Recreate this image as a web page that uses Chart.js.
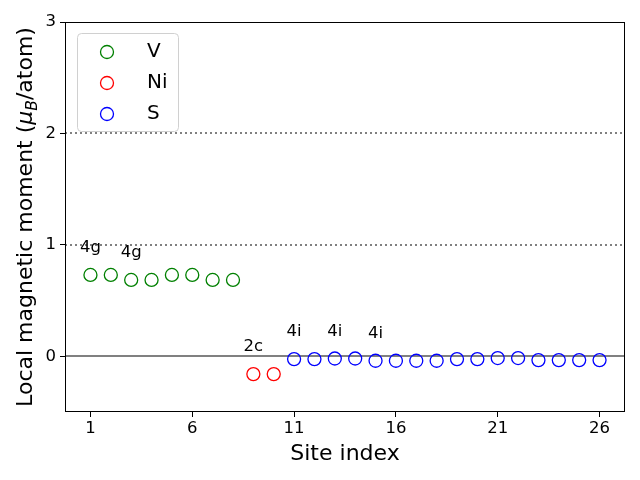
<!DOCTYPE html>
<html>
<head>
<meta charset="utf-8">
<script src="https://cdn.jsdelivr.net/npm/chart.js@4/dist/chart.umd.min.js"></script>
<style>
  html, body { margin: 0; padding: 0; background: #fff; }
  #wrap { width: 640px; height: 480px; }
</style>
</head>
<body>
<div id="wrap"><canvas id="myChart" width="640" height="480"></canvas></div>
<script>
// site indices and moments for each element
const vSites = [1, 2, 3, 4, 5, 6, 7, 8];
const vMoments = [0.73, 0.73, 0.685, 0.685, 0.73, 0.73, 0.685, 0.685];
const niSites = [9, 10];
const niMoments = [-0.16, -0.16];
const sSites = [11, 12, 13, 14, 15, 16, 17, 18, 19, 20, 21, 22, 23, 24, 25, 26];
const sMoments = [-0.025, -0.025, -0.02, -0.02, -0.04, -0.04, -0.04, -0.04,
                  -0.025, -0.025, -0.016, -0.016, -0.034, -0.034, -0.034, -0.034];

const xTicks = [1, 6, 11, 16, 21, 26];
const yTicks = [0, 1, 2, 3];

// wyckoff labels
const labelSites = [1, 3, 9, 11, 13, 15];
const labelTexts = ['4g', '4g', '2c', '4i', '4i', '4i'];

const dottedLines = [1, 2];

const FONT = 'DejaVu Sans';

function pts(xs, ys) {
  return xs.map((x, i) => ({ x: x, y: ys[i] }));
}

function findMoment(site) {
  const all = pts(vSites, vMoments).concat(pts(niSites, niMoments), pts(sSites, sMoments));
  return all.find(p => p.x === site).y;
}

const refLinesPlugin = {
  id: 'refLines',
  beforeDatasetsDraw(chart) {
    const { ctx, chartArea, scales } = chart;
    ctx.save();
    ctx.strokeStyle = '#808080';
    ctx.lineWidth = 2;
    ctx.setLineDash([2, 3]);
    dottedLines.forEach(v => {
      const y = Math.round(scales.y.getPixelForValue(v));
      ctx.beginPath();
      ctx.moveTo(chartArea.left, y);
      ctx.lineTo(chartArea.right, y);
      ctx.stroke();
    });
    ctx.setLineDash([]);
    const y0 = Math.round(scales.y.getPixelForValue(0));
    ctx.beginPath();
    ctx.moveTo(chartArea.left, y0);
    ctx.lineTo(chartArea.right, y0);
    ctx.stroke();
    ctx.restore();
  },
  afterDatasetsDraw(chart) {
    const { ctx, chartArea, scales } = chart;
    ctx.save();
    // frame
    ctx.strokeStyle = '#000';
    ctx.lineWidth = 1;
    ctx.strokeRect(chartArea.left + 0.5, chartArea.top + 0.5,
                   chartArea.right - chartArea.left - 1, chartArea.bottom - chartArea.top - 1);
    // site labels
    ctx.fillStyle = '#000';
    ctx.font = '16.5px "' + FONT + '"';
    ctx.textAlign = 'center';
    ctx.textBaseline = 'alphabetic';
    labelSites.forEach((s, i) => {
      const x = scales.x.getPixelForValue(s);
      const y = scales.y.getPixelForValue(findMoment(s) + 0.205);
      ctx.fillText(labelTexts[i], x, y);
    });
    // y title with subscript
    const parts = [
      { t: 'Local magnetic moment (', f: '22px "' + FONT + '"', dy: 0 },
      { t: 'μ', f: 'italic 22px "' + FONT + '"', dy: 0 },
      { t: 'B', f: 'italic 15.5px "' + FONT + '"', dy: 4.5 },
      { t: '/atom)', f: '22px "' + FONT + '"', dy: 0 }
    ];
    let total = 0;
    parts.forEach(p => { ctx.font = p.f; p.w = ctx.measureText(p.t).width; total += p.w; });
    const cy = (chartArea.top + chartArea.bottom) / 2;
    ctx.translate(32, cy);
    ctx.rotate(-Math.PI / 2);
    ctx.textAlign = 'left';
    let cx = -total / 2;
    parts.forEach(p => {
      ctx.font = p.f;
      ctx.fillText(p.t, cx, p.dy);
      cx += p.w;
    });
    ctx.restore();

    // legend
    ctx.save();
    const bx = 77.5, by = 33.5, bw = 101, bh = 98;
    ctx.fillStyle = 'rgba(255,255,255,0.8)';
    ctx.strokeStyle = '#d0d0d0';
    ctx.lineWidth = 1;
    ctx.beginPath();
    ctx.roundRect(bx, by, bw, bh, 4);
    ctx.fill();
    ctx.stroke();
    ctx.font = '20px "' + FONT + '"';
    ctx.textAlign = 'left';
    ctx.textBaseline = 'middle';
    chart.data.datasets.forEach((ds, i) => {
      const y = 52 + i * 31;
      ctx.strokeStyle = ds.borderColor;
      ctx.lineWidth = ds.borderWidth;
      ctx.beginPath();
      ctx.arc(107, y, ds.pointRadius, 0, Math.PI * 2);
      ctx.stroke();
      ctx.fillStyle = '#000';
      ctx.fillText(ds.label, 147, y);
    });
    ctx.restore();
  }
};

function series(label, color, xs, ys) {
  return {
    label: label,
    data: pts(xs, ys),
    borderColor: color,
    backgroundColor: 'rgba(0,0,0,0)',
    pointRadius: 6.5,
    pointHoverRadius: 6.5,
    borderWidth: 1.3,
    showLine: false
  };
}

const config = {
  type: 'scatter',
  data: {
    datasets: [
      series('V', 'green', vSites, vMoments),
      series('Ni', 'red', niSites, niMoments),
      series('S', 'blue', sSites, sMoments)
    ]
  },
  options: {
    responsive: false,
    animation: false,
    layout: { padding: { top: 22, right: 15, left: 0, bottom: 0 } },
    plugins: { legend: { display: false }, tooltip: { enabled: false } },
    scales: {
      x: {
        type: 'linear',
        min: -0.25,
        max: 27.25,
        afterBuildTicks: s => { s.ticks = xTicks.map(v => ({ value: v })); },
        afterFit: s => { s.height = 68; },
        grid: { drawOnChartArea: false, drawTicks: true, tickLength: 5, tickColor: '#000' },
        border: { display: false },
        ticks: { color: '#000', font: { family: FONT, size: 16.5 }, padding: 2, maxRotation: 0 },
        title: { display: true, text: 'Site index', color: '#000',
                 font: { family: FONT, size: 22 }, padding: { top: 0, bottom: 13 } }
      },
      y: {
        type: 'linear',
        min: -0.5,
        max: 3,
        afterBuildTicks: s => { s.ticks = yTicks.map(v => ({ value: v })); },
        afterFit: s => { s.width = 65; },
        grid: { drawOnChartArea: false, drawTicks: true, tickLength: 5, tickColor: '#000' },
        border: { display: false },
        ticks: { color: '#000', font: { family: FONT, size: 16.5 }, padding: 4 }
      }
    }
  },
  plugins: [refLinesPlugin]
};

const myChart = new Chart(document.getElementById('myChart'), config);
</script>
</body>
</html>
